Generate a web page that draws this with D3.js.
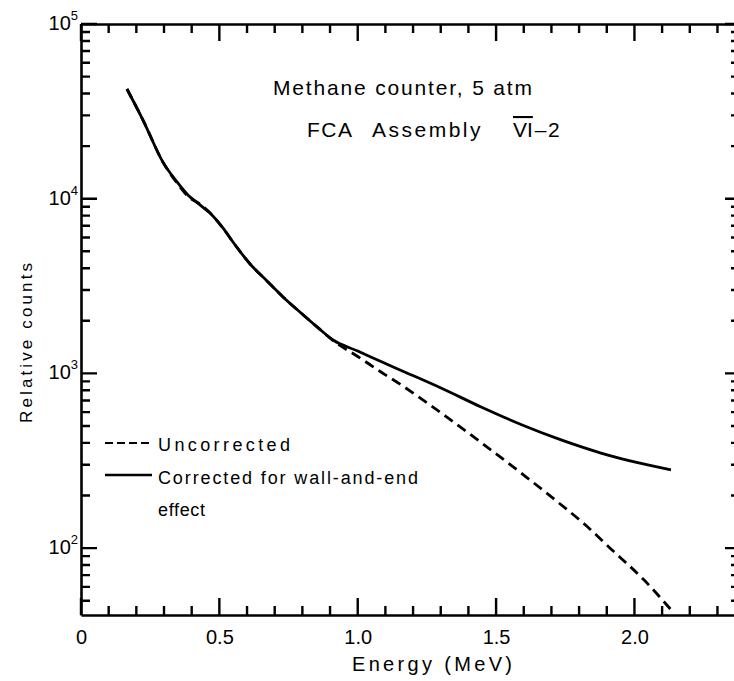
<!DOCTYPE html>
<html>
<head>
<meta charset="utf-8">
<script src="https://cdn.jsdelivr.net/npm/d3@7"></script>
<style>
  html, body { margin: 0; padding: 0; background: #fff; }
  svg { display: block; }
  text { font-family: "Liberation Sans", Arial, sans-serif; fill: #000; }
</style>
</head>
<body>
<svg id="chart" width="734" height="681"></svg>
<script>
// ---- data ----
const energyCorrected = [0.166, 0.224, 0.296, 0.347, 0.383, 0.430, 0.466, 0.510, 0.557, 0.611, 0.672, 0.730, 0.791, 0.853, 0.911, 1.000, 1.084, 1.157, 1.301, 1.446, 1.590, 1.735, 1.879, 2.024, 2.132];
const countsCorrected = [42450, 28200, 16200, 12470, 10650, 9210, 8280, 6890, 5430, 4230, 3380, 2740, 2245, 1845, 1553, 1343, 1169, 1040, 825, 642, 510, 416, 350, 305, 280];

const energyUncorrected = [0.166, 0.224, 0.296, 0.347, 0.383, 0.430, 0.466, 0.510, 0.557, 0.611, 0.672, 0.730, 0.791, 0.853, 0.911, 1.000, 1.084, 1.157, 1.326, 1.446, 1.601, 1.735, 1.822, 1.915, 2.035, 2.139];
const countsUncorrected = [42450, 28200, 16200, 12300, 10450, 9300, 8300, 6890, 5430, 4230, 3380, 2740, 2245, 1845, 1540, 1250, 1019, 859, 556, 402, 261, 177, 136, 98.9, 65.6, 43.1];

const xMajorTicks = [0, 0.5, 1.0, 1.5, 2.0];
const xTickLabels = ["0", "0.5", "1.0", "1.5", "2.0"];
const yMajorTicks = [1e2, 1e3, 1e4, 1e5];
const yTickExponents = ["2", "3", "4", "5"];

const titleLine1 = "Methane counter, 5 atm";
const titleLine2Words = ["FCA", "Assembly", "VI", "\u20132"];
const xAxisTitle = "Energy (MeV)";
const yAxisTitle = "Relative counts";
const legendLabels = ["Uncorrected", "Corrected for wall-and-end", "effect"];

// ---- layout ----
const svg = d3.select("#chart");
const mLeft = 81, mRight = 736, mTop = 24, mBottom = 615;
const xMax = 2.367;
const yMin = 41.4, yMax = 1e5;

const x = d3.scaleLinear().domain([0, xMax]).range([mLeft, mRight]);
const y = d3.scaleLog().domain([yMin, yMax]).range([mBottom, mTop]);

const xMinor = d3.range(0, 24).map(i => +(i * 0.1).toFixed(1)).filter(v => v <= xMax && !xMajorTicks.includes(v));
const yMinor = [];
[10, 100, 1000, 10000].forEach(d => { for (let k = 2; k <= 9; k++) { const v = k * d; if (v >= yMin && v <= yMax) yMinor.push(v); } });

// ---- axes (frame lines + x tick labels) ----
const axB = svg.append("g").attr("transform", `translate(0,${mBottom})`)
  .call(d3.axisBottom(x).tickValues(xMajorTicks).tickSize(0).tickPadding(15)
    .tickFormat((d, i) => xTickLabels[i]));
axB.selectAll(".tick text").attr("font-size", 20).attr("font-family", "Liberation Sans, Arial, sans-serif").attr("fill", "#000");
const axT = svg.append("g").attr("transform", `translate(0,${mTop})`)
  .call(d3.axisTop(x).tickValues([]).tickSize(0));
const axL = svg.append("g").attr("transform", `translate(${mLeft},0)`)
  .call(d3.axisLeft(y).tickValues([]).tickSize(0));
const axR = svg.append("g").attr("transform", `translate(${mRight},0)`)
  .call(d3.axisRight(y).tickValues([]).tickSize(0));
[axB, axT, axL, axR].forEach(g => g.select("path.domain").attr("stroke", "#000").attr("stroke-width", 2.6));

// ---- tick marks (one path, positions from the scales) ----
const tickPath = d3.path();
function vTicks(vals, y0, len) {
  vals.forEach(d => { tickPath.moveTo(x(d), y0); tickPath.lineTo(x(d), y0 + len); });
}
function hTicks(vals, x0, len) {
  vals.forEach(d => { tickPath.moveTo(x0, y(d)); tickPath.lineTo(x0 + len, y(d)); });
}
vTicks(xMinor, mBottom, -9);
vTicks(xMajorTicks, mBottom, -17);
vTicks(xMinor, mTop, 9);
vTicks(xMajorTicks, mTop, 17);
hTicks(yMinor, mLeft, 9);
hTicks(yMajorTicks, mLeft, 16);
hTicks(yMinor, mRight, -5);
hTicks(yMajorTicks, mRight, -11);
svg.append("path").attr("d", tickPath.toString())
  .attr("fill", "none").attr("stroke", "#000").attr("stroke-width", 2.4);

// y tick labels with superscripts
const yLab = svg.append("g");
yMajorTicks.forEach((v, i) => {
  const t = yLab.append("text")
    .attr("x", 78).attr("y", y(v) + 6)
    .attr("text-anchor", "end").attr("font-size", 20);
  t.append("tspan").text("10");
  t.append("tspan").attr("dy", -10).attr("font-size", 13).text(yTickExponents[i]);
});

// axis titles
svg.append("text")
  .attr("x", 432).attr("y", 671).attr("text-anchor", "middle")
  .attr("font-size", 20).attr("textLength", 160).attr("lengthAdjust", "spacing")
  .text(xAxisTitle);
svg.append("text")
  .attr("transform", `translate(32,343) rotate(-90)`)
  .attr("text-anchor", "middle").attr("font-size", 17)
  .attr("textLength", 160).attr("lengthAdjust", "spacing")
  .text(yAxisTitle);

// annotations
svg.append("text")
  .attr("x", 273).attr("y", 95).attr("font-size", 21)
  .attr("textLength", 259).attr("lengthAdjust", "spacing")
  .text(titleLine1);
const t2 = svg.append("text").attr("y", 137).attr("font-size", 21).attr("letter-spacing", 1.5);
t2.append("tspan").attr("x", 307).text(titleLine2Words[0]);
t2.append("tspan").attr("x", 372).attr("letter-spacing", 2.5).text(titleLine2Words[1]);
t2.append("tspan").attr("x", 513).style("text-decoration", "overline").attr("letter-spacing", 0).text(titleLine2Words[2]);
t2.append("tspan").attr("dx", 2).text(titleLine2Words[3]);

// curves
const line = d3.line()
  .x(d => x(d[0])).y(d => y(d[1]))
  .curve(d3.curveMonotoneX);

const corrected = energyCorrected.map((e, i) => [e, countsCorrected[i]]);
const uncorrected = energyUncorrected.map((e, i) => [e, countsUncorrected[i]]);

svg.append("path").datum(corrected)
  .attr("d", line).attr("fill", "none").attr("stroke", "#000").attr("stroke-width", 2.8);
svg.append("path").datum(uncorrected)
  .attr("d", line).attr("fill", "none").attr("stroke", "#000").attr("stroke-width", 2.8)
  .attr("stroke-dasharray", "10,6");

// legend
const lg = svg.append("g");
lg.append("line").attr("x1", 105).attr("x2", 152).attr("y1", 443).attr("y2", 443)
  .attr("stroke", "#000").attr("stroke-width", 2.2).attr("stroke-dasharray", "8,4");
lg.append("line").attr("x1", 105).attr("x2", 152).attr("y1", 475).attr("y2", 475)
  .attr("stroke", "#000").attr("stroke-width", 2.4);
lg.append("text").attr("x", 158).attr("y", 451).attr("font-size", 18)
  .attr("textLength", 132).attr("lengthAdjust", "spacing").text(legendLabels[0]);
lg.append("text").attr("x", 158).attr("y", 484).attr("font-size", 18)
  .attr("textLength", 260).attr("lengthAdjust", "spacing").text(legendLabels[1]);
lg.append("text").attr("x", 158).attr("y", 516).attr("font-size", 18)
  .attr("textLength", 47).attr("lengthAdjust", "spacing").text(legendLabels[2]);
</script>
</body>
</html>
